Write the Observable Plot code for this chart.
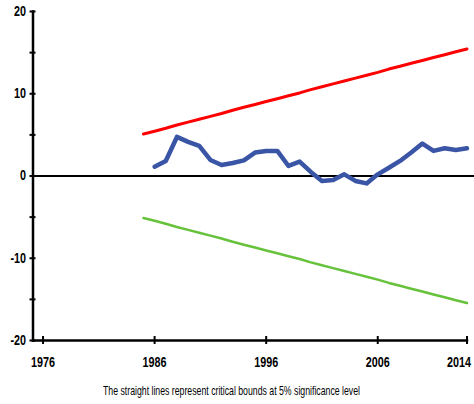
<!DOCTYPE html>
<html><head><meta charset="utf-8">
<script src="https://cdn.jsdelivr.net/npm/d3@7"></script>
<script src="https://cdn.jsdelivr.net/npm/@observablehq/plot@0.6"></script>
<style>
body{margin:0;background:#fff;width:474px;height:404px;overflow:hidden;}
#chart svg{display:block;overflow:visible;}
#cap{margin-top:7px;height:14px;line-height:14px;white-space:nowrap;padding-left:103px;}
#cap span{display:inline-block;font-family:"Liberation Sans Narrow","Liberation Sans",Arial,sans-serif;font-size:13px;color:#000;transform-origin:0 50%;}
</style>
</head><body><div id="chart"></div><div id="cap"><span id="capText"></span></div>
<script>
const boundYears = [1985,1986,1987,1988,1989,1990,1991,1992,1993,1994,1995,1996,1997,1998,1999,2000,2001,2002,2003,2004,2005,2006,2007,2008,2009,2010,2011,2012,2013,2014];
const upperBound = [5.1,5.45,5.8,6.2,6.55,6.9,7.25,7.6,8.0,8.35,8.7,9.05,9.4,9.75,10.1,10.5,10.85,11.2,11.55,11.9,12.25,12.6,13.0,13.35,13.7,14.05,14.4,14.75,15.1,15.45];
const lowerBound = [-5.1,-5.45,-5.8,-6.2,-6.55,-6.9,-7.25,-7.6,-8.0,-8.35,-8.7,-9.05,-9.4,-9.75,-10.1,-10.5,-10.85,-11.2,-11.55,-11.9,-12.25,-12.6,-13.0,-13.35,-13.7,-14.05,-14.4,-14.75,-15.1,-15.45];
const cusumYears = [1986,1987,1988,1989,1990,1991,1992,1993,1994,1995,1996,1997,1998,1999,2000,2001,2002,2003,2004,2005,2006,2007,2008,2009,2010,2011,2012,2013,2014];
const cusum = [1.13,1.83,4.75,4.15,3.66,1.95,1.34,1.58,1.9,2.85,3.05,3.05,1.22,1.75,0.5,-0.6,-0.5,0.2,-0.6,-0.9,0.2,1.0,1.83,2.85,3.95,3.05,3.37,3.17,3.37];
const xTickLabels = [1976,1986,1996,2006,2014];
const yTickLabels = [-20,-10,0,10,20];
const yTickMarks = [-20,-15,-10,-5,0,5,10,15,20];
const captionText = "The straight lines represent critical bounds at 5% significance level";

const upperData = boundYears.map((y,i)=>({year:y, value:upperBound[i]}));
const lowerData = boundYears.map((y,i)=>({year:y, value:lowerBound[i]}));
const cusumData = cusumYears.map((y,i)=>({year:y, value:cusum[i]}));

const font = {fontFamily:'"Liberation Sans Narrow","Liberation Sans",Arial,sans-serif', fontSize:14, fontWeight:"bold", fill:"#000"};

const chart = Plot.plot({
  width:474, height:376,
  marginLeft:32.5, marginRight:7.5, marginTop:11, marginBottom:36,
  x:{domain:[1975.1,2014]},
  y:{domain:[-20,20]},
  marks:[
    Plot.ruleY([0], {stroke:"#000", strokeWidth:2, insetRight:-8}),
    Plot.line(lowerData, {x:"year", y:"value", stroke:"#66c23a", strokeWidth:2.5}),
    Plot.line(upperData, {x:"year", y:"value", stroke:"#ff0000", strokeWidth:3}),
    Plot.line(cusumData, {x:"year", y:"value", stroke:"#3a55a5", strokeWidth:4.5, strokeLinejoin:"round"}),
    Plot.frame({anchor:"left", stroke:"#000", strokeWidth:2.5}),
    Plot.frame({anchor:"bottom", stroke:"#000", strokeWidth:2.5}),
    Plot.axisY({ticks:yTickMarks, tickSize:6, dx:3, text:null, label:null, stroke:"#000", strokeWidth:2}),
    Plot.axisY({ticks:yTickLabels, tickSize:0, tickPadding:7, label:null, tickFormat:d=>String(d), ...font}),
    Plot.axisX({ticks:xTickLabels, tickSize:8, dy:-4, text:null, label:null, stroke:"#000", strokeWidth:2}),
    Plot.axisX({ticks:xTickLabels, tickSize:0, tickPadding:17, label:null, tickFormat:d=>String(d), ...font})
  ]
});
document.getElementById("chart").appendChild(chart);

// condense tick labels horizontally
chart.querySelectorAll('g[aria-label$="tick label"] text').forEach(t=>{
  const w = t.getComputedTextLength();
  t.setAttribute("textLength", (w*0.77).toFixed(2));
  t.setAttribute("lengthAdjust","spacingAndGlyphs");
});
// keep the last x label inside the page, as in the reference
const xLabels = chart.querySelectorAll('g[aria-label="x-axis tick label"] text');
if (xLabels.length) {
  const last = xLabels[xLabels.length-1];
  last.setAttribute("text-anchor", "end");
  last.setAttribute("dx", "4");
}

const cap = document.getElementById("capText");
cap.textContent = captionText;
const cw = cap.getBoundingClientRect().width;
cap.style.transform = `scaleX(${257/cw})`;
</script>
</body></html>
